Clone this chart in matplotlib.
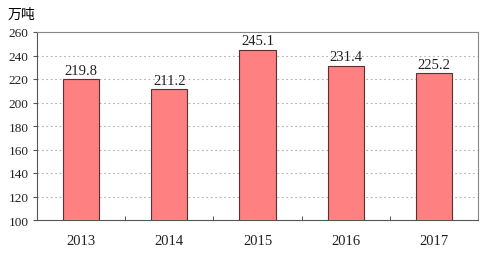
import matplotlib.pyplot as plt
import numpy as np

years = ['2013', '2014', '2015', '2016', '2017']
values = [219.8, 211.2, 245.1, 231.4, 225.2]
yticks = [100, 120, 140, 160, 180, 200, 220, 240, 260]

plt.rcParams['font.family'] = ['Liberation Serif', 'Noto Sans CJK SC']

fig = plt.figure(figsize=(5, 2.55), dpi=100)
ax = fig.add_axes([37 / 500, 1 - 221 / 255, 441 / 500, 188 / 255])

x = np.arange(len(years))
ax.bar(x, values, width=0.41, color='#ff8080', edgecolor='#5a3030', linewidth=0.8, zorder=3)
for xi, v in zip(x, values):
    ax.text(xi, v + 2, f'{v:.1f}', ha='center', va='bottom', fontsize=10.5, color='#222222')

ax.set_xlim(-0.5, len(years) - 0.5)
ax.set_ylim(100, 260)
ax.set_yticks(yticks)
ax.set_yticklabels([str(t) for t in yticks], fontsize=9.5, color='#222222')
for t in yticks[1:-1]:
    ax.axhline(t, color='#b0b0b0', linestyle=(0, (1.5, 2.5)), linewidth=0.8, zorder=1)

ax.set_xticks(x)
ax.set_xticklabels(years, fontsize=10.5, color='#222222')
ax.tick_params(axis='x', length=0, pad=10)
ax.set_xticks(np.arange(0.5, len(years) - 1, 1), minor=True)
ax.tick_params(axis='x', which='minor', direction='in', length=3, color='#333333')
ax.tick_params(axis='y', direction='out', length=3, color='#555555', pad=3)

for s in ['left', 'bottom']:
    ax.spines[s].set_color('#555555')
for s in ['top', 'right']:
    ax.spines[s].set_color('#888888')

fig.text(8 / 500, 1 - 15 / 255, '万吨', fontsize=10, va='center', ha='left',
         family=['Noto Sans CJK SC', 'DejaVu Sans'])

fig.savefig('out.png', dpi=100)
